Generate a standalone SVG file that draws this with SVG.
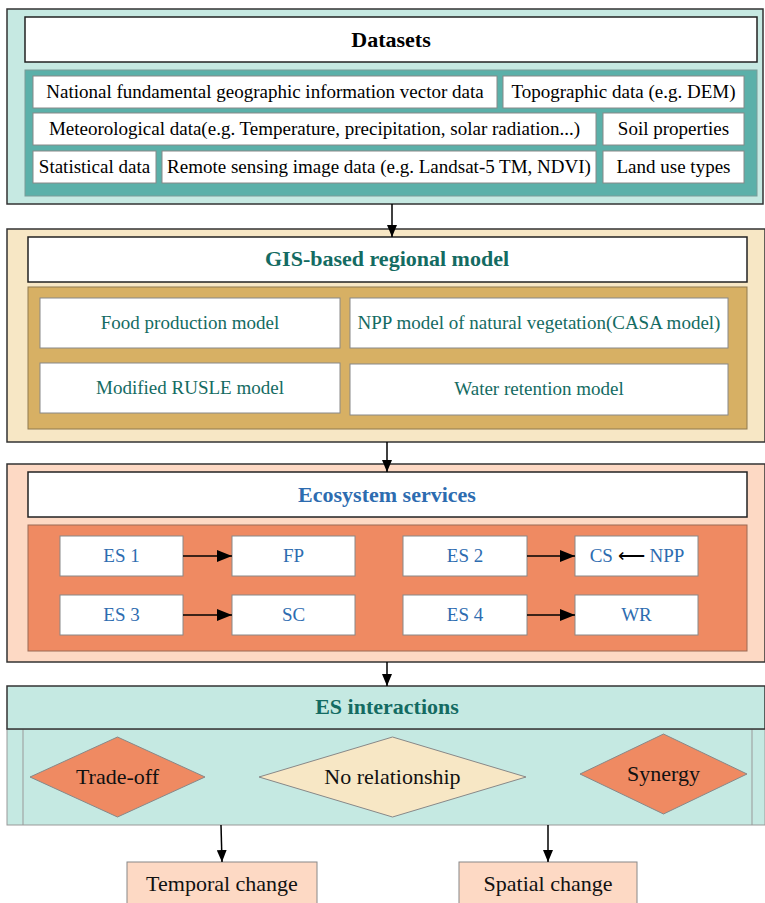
<svg xmlns="http://www.w3.org/2000/svg" width="765" height="903" viewBox="0 0 765 903">
<defs>
<marker id="ah" viewBox="0 0 12 10" refX="12" refY="5" markerWidth="12" markerHeight="10" markerUnits="userSpaceOnUse" orient="auto">
<path d="M0,0 L12,5 L0,10 Z" fill="#000"/>
</marker>
<marker id="ah2" viewBox="0 0 15 12" refX="15" refY="6" markerWidth="15" markerHeight="12" markerUnits="userSpaceOnUse" orient="auto">
<path d="M0,0 L15,6 L0,12 Z" fill="#000"/>
</marker>
</defs>
<style>
.sec{stroke:#333;stroke-width:1.5}
.tb{fill:#fff;stroke:#222;stroke-width:1.5}
.bx{fill:#fff;stroke:#888;stroke-width:1}
.t{font-family:"Liberation Serif","Times New Roman",serif;font-size:19px;text-anchor:middle}
.h{font-family:"Liberation Serif","Times New Roman",serif;font-size:22px;font-weight:bold;text-anchor:middle}
.d{font-family:"Liberation Serif","Times New Roman",serif;font-size:22px;text-anchor:middle;fill:#111}
.teal{fill:#146b62}
.blue{fill:#2d6cb0}
.con{stroke:#000;stroke-width:1.5;fill:none}
</style>

<g id="datasets">
<rect class="sec" x="7" y="9" width="756" height="195" fill="#c6e9e2"/>
<rect class="tb" x="25" y="17" width="732" height="45"/>
<text class="h" x="391" y="47" fill="#000">Datasets</text>
<rect x="25" y="70" width="732" height="126" fill="#5bb0a9" stroke="#7a9c98" stroke-width="1"/>
<g id="ds-vector"><rect class="bx" x="33" y="76" width="464" height="32"/><text class="t" x="265" y="98">National fundamental geographic information vector data</text></g>
<g id="ds-topo"><rect class="bx" x="503" y="76" width="241" height="32"/><text class="t" x="623.5" y="98">Topographic data (e.g. DEM)</text></g>
<g id="ds-meteo"><rect class="bx" x="33" y="113" width="563" height="32"/><text class="t" x="314.5" y="135">Meteorological data(e.g. Temperature, precipitation, solar radiation...)</text></g>
<g id="ds-soil"><rect class="bx" x="603" y="113" width="141" height="32"/><text class="t" x="673.5" y="135">Soil properties</text></g>
<g id="ds-stat"><rect class="bx" x="33" y="151" width="123" height="32"/><text class="t" x="94.5" y="173">Statistical data</text></g>
<g id="ds-rs"><rect class="bx" x="162" y="151" width="434" height="32"/><text class="t" x="379" y="173">Remote sensing image data (e.g. Landsat-5 TM, NDVI)</text></g>
<g id="ds-lu"><rect class="bx" x="603" y="151" width="141" height="32"/><text class="t" x="673.5" y="173">Land use types</text></g>
</g>

<g id="gis">
<rect class="sec" x="7" y="229" width="758" height="213" fill="#f7e7c5"/>
<rect class="tb" x="28" y="237" width="719" height="45"/>
<text class="h teal" x="387" y="266">GIS-based regional model</text>
<rect x="28" y="287" width="719" height="142" fill="#d7b064" stroke="#8f7a50" stroke-width="1"/>
<g id="m-food"><rect class="bx" x="40" y="298" width="300" height="50"/><text class="t teal" x="190" y="329">Food production model</text></g>
<g id="m-npp"><rect class="bx" x="350" y="298" width="378" height="50"/><text class="t teal" x="539" y="329">NPP model of natural vegetation(CASA model)</text></g>
<g id="m-rusle"><rect class="bx" x="40" y="363" width="300" height="50"/><text class="t teal" x="190" y="394">Modified RUSLE model</text></g>
<g id="m-water"><rect class="bx" x="350" y="364" width="378" height="51"/><text class="t teal" x="539" y="395">Water retention model</text></g>
</g>

<g id="es">
<rect class="sec" x="7" y="464" width="758" height="198" fill="#fdd9c4"/>
<rect class="tb" x="28" y="472" width="719" height="45"/>
<text class="h blue" x="387" y="502">Ecosystem services</text>
<rect x="28" y="525" width="719" height="126" fill="#ef8a62" stroke="#9a6a55" stroke-width="1"/>
<g id="es1"><rect class="bx" x="60" y="536" width="123" height="40"/><text class="t blue" x="121.5" y="562">ES 1</text></g>
<g id="fp"><rect class="bx" x="232" y="536" width="123" height="40"/><text class="t blue" x="293.5" y="562">FP</text></g>
<g id="es3"><rect class="bx" x="60" y="595" width="123" height="40"/><text class="t blue" x="121.5" y="621">ES 3</text></g>
<g id="sc"><rect class="bx" x="232" y="595" width="123" height="40"/><text class="t blue" x="293.5" y="621">SC</text></g>
<g id="es2"><rect class="bx" x="403" y="536" width="124" height="40"/><text class="t blue" x="465" y="562">ES 2</text></g>
<g id="cs"><rect class="bx" x="575" y="536" width="123" height="40"/><text class="t blue" x="637" y="562">CS <tspan fill="#000">⟵</tspan> NPP</text></g>
<g id="es4"><rect class="bx" x="403" y="595" width="124" height="40"/><text class="t blue" x="465" y="621">ES 4</text></g>
<g id="wr"><rect class="bx" x="575" y="595" width="123" height="40"/><text class="t blue" x="636.5" y="621">WR</text></g>
</g>

<g id="interactions">
<rect x="7" y="729" width="758" height="96" fill="#c5e9e2" stroke="#999" stroke-width="1"/>
<line x1="23" y1="729" x2="23" y2="825" stroke="#999" stroke-width="1"/>
<line x1="752" y1="729" x2="752" y2="825" stroke="#999" stroke-width="1"/>
<rect class="sec" x="7" y="686" width="758" height="43" fill="#c5e9e2"/>
<text class="h teal" x="387" y="714">ES interactions</text>
<g id="tradeoff"><polygon points="30,777 117.5,737 205,777 117.5,817" fill="#ef8a62" stroke="#888" stroke-width="1"/><text class="d" x="117.5" y="784">Trade-off</text></g>
<g id="norel"><polygon points="259,777 392.5,737 526,777 392.5,817" fill="#f7e7c5" stroke="#888" stroke-width="1"/><text class="d" x="392.5" y="784">No relationship</text></g>
<g id="synergy"><polygon points="580,774 663.5,734 747,774 663.5,814" fill="#ef8a62" stroke="#888" stroke-width="1"/><text class="d" x="663.5" y="781">Synergy</text></g>
</g>

<g id="temporal"><rect x="127" y="862" width="190" height="50" fill="#fdd9c4" stroke="#888" stroke-width="1"/><text class="d" x="222" y="891">Temporal change</text></g>
<g id="spatial"><rect x="459" y="862" width="178" height="50" fill="#fdd9c4" stroke="#888" stroke-width="1"/><text class="d" x="548" y="891">Spatial change</text></g>

<g id="connectors">
<line class="con" x1="392" y1="204" x2="392" y2="237" marker-end="url(#ah)"/>
<line class="con" x1="387" y1="442" x2="387" y2="472" marker-end="url(#ah)"/>
<line class="con" x1="387" y1="662" x2="387" y2="686" marker-end="url(#ah)"/>
<line class="con" x1="221" y1="825" x2="222" y2="862" marker-end="url(#ah)"/>
<line class="con" x1="548" y1="825" x2="548" y2="862" marker-end="url(#ah)"/>
<line class="con" x1="183" y1="556" x2="232" y2="556" marker-end="url(#ah2)"/>
<line class="con" x1="183" y1="615" x2="232" y2="615" marker-end="url(#ah2)"/>
<line class="con" x1="527" y1="556" x2="575" y2="556" marker-end="url(#ah2)"/>
<line class="con" x1="527" y1="615" x2="575" y2="615" marker-end="url(#ah2)"/>
</g>
</svg>
